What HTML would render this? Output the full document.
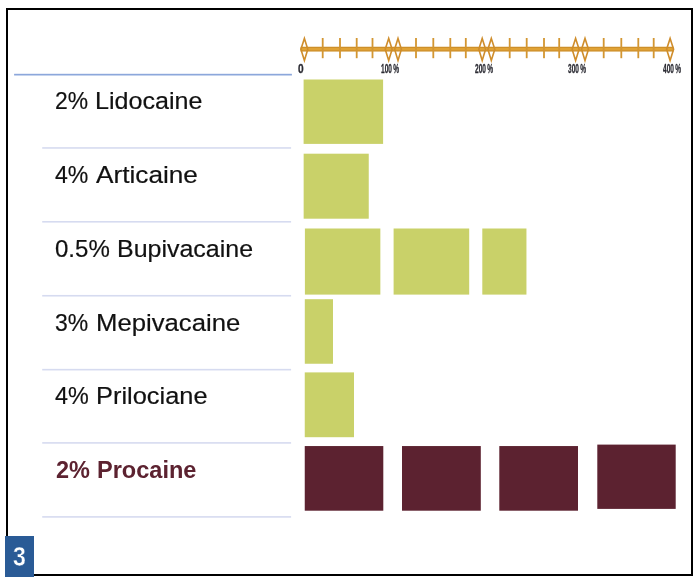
<!DOCTYPE html>
<html>
<head>
<meta charset="utf-8">
<style>
html,body{margin:0;padding:0;background:#fff;}
body{width:698px;height:582px;position:relative;overflow:hidden;font-family:"Liberation Sans",sans-serif;}
.abs{position:absolute;}
.frame{left:6px;top:8px;width:687px;height:568px;border:2px solid #000;box-sizing:border-box;}
.row{margin:0;padding:0;height:0;line-height:0;font-size:0;}
.lbl{position:absolute;display:block;font-size:24.5px;line-height:40px;color:#111;-webkit-text-stroke:0.2px #111;white-space:nowrap;transform-origin:0 0;}
.lbl.b{font-weight:bold;color:#5c2230;-webkit-text-stroke:0;}
.tk{position:absolute;font-size:12px;line-height:12px;font-weight:bold;color:#2b2b33;white-space:nowrap;transform-origin:0 0;transform:scaleX(0.545);word-spacing:-1.0px;-webkit-text-stroke:0.3px #2b2b33;filter:blur(0.3px);}
.num{position:absolute;left:4.9px;top:535.8px;width:29px;height:40.9px;background:#2a5b96;}
.num span{position:absolute;left:-0.4px;top:0.4px;-webkit-text-stroke:0.4px #2a5b96;width:29px;text-align:center;color:#fff;font-weight:bold;font-size:28.5px;line-height:41px;transform:scaleX(0.81);}
</style>
</head>
<body>
<div class="abs frame"></div>

<svg class="abs" style="left:0;top:0" width="698" height="582" viewBox="0 0 698 582">
<rect x="14.1" y="73.8" width="277.8" height="1.7" fill="#8ca7db"/>
<rect x="42.2" y="147.15" width="248.9" height="1.6" fill="#d6dbf0"/>
<rect x="42.2" y="221.0" width="248.9" height="1.6" fill="#d6dbf0"/>
<rect x="42.2" y="294.95" width="248.9" height="1.6" fill="#d6dbf0"/>
<rect x="42.2" y="368.86" width="248.9" height="1.6" fill="#d6dbf0"/>
<rect x="42.2" y="442.1" width="248.9" height="1.6" fill="#d6dbf0"/>
<rect x="42.2" y="516.1" width="248.9" height="1.6" fill="#d6dbf0"/>
<rect x="303.6" y="79.5" width="79.50" height="64.40" fill="#c9d169"/>
<rect x="303.65" y="153.7" width="65.10" height="65.00" fill="#c9d169"/>
<rect x="304.9" y="228.5" width="75.45" height="66.10" fill="#c9d169"/>
<rect x="393.6" y="228.5" width="75.60" height="66.10" fill="#c9d169"/>
<rect x="482.3" y="228.5" width="44.15" height="66.10" fill="#c9d169"/>
<rect x="304.8" y="299.2" width="28.20" height="64.55" fill="#c9d169"/>
<rect x="304.75" y="372.4" width="49.25" height="64.80" fill="#c9d169"/>
<rect x="304.75" y="446.05" width="78.55" height="64.65" fill="#5c2230"/>
<rect x="402" y="446.05" width="78.80" height="64.65" fill="#5c2230"/>
<rect x="499.3" y="446.05" width="78.70" height="64.65" fill="#5c2230"/>
<rect x="597.3" y="444.6" width="78.40" height="64.30" fill="#5c2230"/>
</svg>

<svg class="abs" style="left:290px;top:30px" width="400" height="40" viewBox="290 30 400 40">
<defs><filter id="bl" x="-5%" y="-20%" width="110%" height="140%"><feGaussianBlur stdDeviation="0.45"/></filter></defs>
<g filter="url(#bl)">
<rect x="300.6" y="46.75" width="373" height="4.8" fill="#cd8f2b"/>
<rect x="300.6" y="48" width="373" height="2.3" fill="#e0a234"/>
<rect x="321.8" y="38" width="1.8" height="20.2" fill="#d39631"/>
<rect x="339.1" y="38" width="1.8" height="20.2" fill="#d39631"/>
<rect x="355.8" y="38" width="1.8" height="20.2" fill="#d39631"/>
<rect x="371.6" y="38" width="1.8" height="20.2" fill="#d39631"/>
<rect x="415.1" y="38" width="1.8" height="20.2" fill="#d39631"/>
<rect x="432.4" y="38" width="1.8" height="20.2" fill="#d39631"/>
<rect x="449.4" y="38" width="1.8" height="20.2" fill="#d39631"/>
<rect x="464.9" y="38" width="1.8" height="20.2" fill="#d39631"/>
<rect x="508.8" y="38" width="1.8" height="20.2" fill="#d39631"/>
<rect x="525.8" y="38" width="1.8" height="20.2" fill="#d39631"/>
<rect x="543.1" y="38" width="1.8" height="20.2" fill="#d39631"/>
<rect x="558.3" y="38" width="1.8" height="20.2" fill="#d39631"/>
<rect x="602.8" y="38" width="1.8" height="20.2" fill="#d39631"/>
<rect x="620.4" y="38" width="1.8" height="20.2" fill="#d39631"/>
<rect x="637.4" y="38" width="1.8" height="20.2" fill="#d39631"/>
<rect x="652.8" y="38" width="1.8" height="20.2" fill="#d39631"/>
<path d="M300.9 49.3 L304.4 38.4 L307.8 49.3 L304.4 60.5 Z" fill="none" stroke="#cf8d2c" stroke-width="1.6" stroke-linejoin="miter"/>
<path d="M385.2 49.3 L388.7 38.4 L392.1 49.3 L388.7 60.5 Z" fill="none" stroke="#cf8d2c" stroke-width="1.6" stroke-linejoin="miter"/>
<path d="M394.6 49.3 L398.0 38.4 L401.4 49.3 L398.0 60.5 Z" fill="none" stroke="#cf8d2c" stroke-width="1.6" stroke-linejoin="miter"/>
<path d="M478.8 49.3 L482.2 38.4 L485.6 49.3 L482.2 60.5 Z" fill="none" stroke="#cf8d2c" stroke-width="1.6" stroke-linejoin="miter"/>
<path d="M487.9 49.3 L491.3 38.4 L494.8 49.3 L491.3 60.5 Z" fill="none" stroke="#cf8d2c" stroke-width="1.6" stroke-linejoin="miter"/>
<path d="M572.1 49.3 L575.6 38.4 L579.1 49.3 L575.6 60.5 Z" fill="none" stroke="#cf8d2c" stroke-width="1.6" stroke-linejoin="miter"/>
<path d="M581.5 49.3 L585.0 38.4 L588.5 49.3 L585.0 60.5 Z" fill="none" stroke="#cf8d2c" stroke-width="1.6" stroke-linejoin="miter"/>
<path d="M666.6 49.3 L670.1 38.4 L673.6 49.3 L670.1 60.5 Z" fill="none" stroke="#cf8d2c" stroke-width="1.6" stroke-linejoin="miter"/>
</g>
</svg>

<div class="row">
<span class="lbl" style="left:55.03px;top:81px;transform:scaleX(0.9323)">2%</span> 
<span class="lbl" style="left:95.35px;top:81px;transform:scaleX(1.0241)">Lidocaine</span> 
</div>
<div class="row">
<span class="lbl" style="left:54.73px;top:155px;transform:scaleX(0.9412)">4%</span> 
<span class="lbl" style="left:95.80px;top:155px;transform:scaleX(1.0695)">Articaine</span> 
</div>
<div class="row">
<span class="lbl" style="left:54.82px;top:229px;transform:scaleX(0.9815)">0.5%</span> 
<span class="lbl" style="left:117.26px;top:229px;transform:scaleX(1.0192)">Bupivacaine</span> 
</div>
<div class="row">
<span class="lbl" style="left:55.36px;top:303px;transform:scaleX(0.9373)">3%</span> 
<span class="lbl" style="left:95.60px;top:303px;transform:scaleX(1.0491)">Mepivacaine</span> 
</div>
<div class="row">
<span class="lbl" style="left:54.82px;top:376px;transform:scaleX(0.9529)">4%</span> 
<span class="lbl" style="left:95.93px;top:376px;transform:scaleX(1.0364)">Prilociane</span> 
</div>
<div class="row">
<span class="lbl b" style="left:55.58px;top:450px;transform:scaleX(0.9588)">2%</span> 
<span class="lbl b" style="left:97.12px;top:450px;transform:scaleX(0.9609)">Procaine</span> 
</div>

<div class="tk" style="left:298.4px;top:62.9px;transform:scaleX(0.843)">0</div>
<div class="tk" style="left:381.2px;top:62.9px">100 %</div>
<div class="tk" style="left:474.9px;top:62.9px">200 %</div>
<div class="tk" style="left:568.2px;top:62.9px">300 %</div>
<div class="tk" style="left:662.6px;top:62.9px">400 %</div>

<div class="num"><span>3</span></div>
</body>
</html>
